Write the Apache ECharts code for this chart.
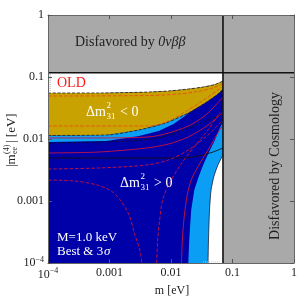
<!DOCTYPE html>
<html><head><meta charset="utf-8">
<script src="https://cdn.jsdelivr.net/npm/echarts@6/dist/echarts.min.js"></script>
<style>html,body{margin:0;padding:0;background:#fff}#c{width:300px;height:298px}</style>
</head><body><div id="c"></div>
<script>
// ---- tick labels ----
const xTicks = [1e-4, 1e-3, 1e-2, 1e-1, 1];
const yTicks = [1e-4, 1e-3, 1e-2, 1e-1, 1];
const xTickLabels = ['10{s|−4}', '0.001', '0.01', '0.1', '1'];
const yTickLabels = ['10{s|−4}', '0.001', '0.01', '0.1', '1'];

// ---- limits ----
const cosmoLimit = 0.07;     // m [eV]
const bbLimit = 0.117;       // |m_ee| [eV]

// ---- region boundaries [m, |m_ee|] ----
const goldTop = [[1e-4,0.0552],[6.84e-4,0.0552],[2.08e-3,0.0562],[4.35e-3,0.0573],[9.12e-3,0.0595],[0.0191,0.064],[0.0333,0.069],[0.0519,0.0757],[0.07,0.0862]];
const goldBottom = [[1e-4,0.0114],[8.87e-4,0.0116],[3.01e-3,0.014],[8.16e-3,0.0181],[0.0191,0.0263],[0.0358,0.0381],[0.0579,0.0532],[0.07,0.064]];
const lbBottom = [[1e-4,0.00895],[8.87e-4,0.00929],[3.01e-3,0.0112],[6.3e-3,0.0135],[0.011,0.0175],[0.0177,0.0244]];
const rbLeft = [[0.0191,1e-4],[0.0198,2.35e-4],[0.0213,7.16e-4],[0.0239,1.5e-3],[0.0277,2.35e-3],[0.0333,3.81e-3],[0.0415,6.17e-3],[0.0519,9.64e-3],[0.0601,0.014],[0.07,0.0188]];
const whiteLeft = [[0.04,1e-4],[0.0407,2.35e-4],[0.0423,7.16e-4],[0.0448,1.5e-3],[0.05,2.53e-3],[0.0579,3.81e-3],[0.0647,4.76e-3],[0.07,5.52e-3]];

// ---- contour lines ----
const lineA = [[1e-4,0.0104],[6.84e-4,0.0104],[4.35e-3,0.0108],[9.12e-3,0.0125],[0.0191,0.0162],[0.0333,0.0226],[0.0482,0.0316],[0.07,0.0476]];
const lineB = [[1e-4,0.00595],[6.84e-4,0.00617],[4.04e-3,0.00716],[9.12e-3,0.0083],[0.0191,0.0108],[0.04,0.0168],[0.07,0.0272]];
const lineC = [[1e-4,0.00494],[0.0148,0.00494],[0.0277,0.00532],[0.0482,0.00617],[0.07,0.00716]];
const lineD = [[1e-4,0.00328],[6.84e-4,0.00341],[4.04e-3,0.00381],[9.12e-3,0.00459],[0.0191,0.00665],[0.04,0.0116],[0.07,0.0203]];
const lineE = [[1e-4,2.18e-3],[2.72e-4,2.10e-3],[6.35e-4,1.81e-3],[1.07e-3,1.45e-3],[1.49e-3,1.04e-3],[2.08e-3,5.95e-4],[2.59e-3,2.83e-4],[3.12e-3,1.62e-4],[3.36e-3,1e-4]];
const lineF = [[5.85e-3,1e-4],[6.07e-3,2.35e-4],[6.54e-3,4.94e-4],[7.30e-3,1.04e-3],[9.12e-3,1.81e-3],[0.0142,3.81e-3],[0.023,7.16e-3],[0.04,0.014],[0.0624,0.0272]];
const lineG = [[0.0148,1e-4],[0.0153,2.35e-4],[0.0165,5.95e-4],[0.0184,1.25e-3],[0.0213,2.18e-3],[0.0267,3.41e-3],[0.0333,4.94e-3],[0.0448,8.0e-3],[0.0579,0.0125],[0.07,0.0168]];
const lineH = [[1e-4,0.0494],[4.35e-3,0.0503],[0.0132,0.0532],[0.0277,0.0584],[0.0482,0.0665],[0.07,0.0785]];
const lineJ = [[1e-4,0.0162],[4.35e-3,0.0162],[9.12e-3,0.0195],[0.0191,0.0294],[0.0358,0.0442],[0.0579,0.0617],[0.07,0.0716]];
const lineK = [[1e-4,0.00862],[2.08e-3,0.00929],[6.3e-3,0.0104],[0.0148,0.0135],[0.0333,0.0188],[0.07,0.0253]];
const oldLeft = [[1.08e-4,0.112],[1.08e-4,0.0573]];
const oldBottom = [[0.0333,1.04e-4],[0.0624,1.04e-4]];

const X0 = xTicks[0], X1 = xTicks[xTicks.length-1];
const Y0 = yTicks[0], Y1 = yTicks[yTicks.length-1];

const GRAY='#a9a9a9', DARK='#0000a8', LIGHT='#0a9ef5', GOLD='#c8a200', RED='#c8143c', ORANGE='#e8501a';
const SERIF='Liberation Serif';

function poly(pts, color, z){
  return {type:'custom', coordinateSystem:'cartesian2d', z:z, silent:true, data:[pts[0]],
    renderItem:function(params, api){
      return {type:'polygon', shape:{points: pts.map(p=>api.coord(p))}, style:{fill:color}};
    }};
}
function line(pts, color, type, width, z){
  return {type:'line', data:pts, showSymbol:false, smooth:0.3, z:z||3, silent:true,
    lineStyle:{color:color, type:type, width:width||1}};
}

const grayTop = [[X0,bbLimit],[X1,bbLimit],[X1,Y1],[X0,Y1]];
const grayRight = [[cosmoLimit,Y0],[X1,Y0],[X1,bbLimit],[cosmoLimit,bbLimit]];
const darkPoly = [[X0,Y0],[cosmoLimit,Y0]].concat(goldTop.slice().reverse());
const goldPoly = goldTop.concat(goldBottom.slice().reverse());
const lbPoly = goldBottom.slice(0,5).concat(lbBottom.slice().reverse());
const rbPoly = rbLeft.concat([[cosmoLimit,Y0]]);
const whitePoly = whiteLeft.concat([[cosmoLimit,Y0]]);

function labelFor(ticks, labels){
  return function(v){
    for (let i=0;i<ticks.length;i++) if (Math.abs(Math.log10(v)-Math.log10(ticks[i]))<1e-6) return labels[i];
    return '';
  };
}
const labRich = {s:{fontSize:8, fontFamily:SERIF, color:'#222', padding:[0,0,7,0]}};

function txt(x, y, text, size, color, align, extra){
  const st = {text:text, fill:color, fontFamily:SERIF, fontSize:size, align:align||'left', verticalAlign:'middle', textAlign:align||'left', textVerticalAlign:'middle'};
  if (extra) Object.assign(st, extra);
  return {type:'text', x:x, y:y, z:20, style:st};
}

const chart = echarts.init(document.getElementById('c'), null, {renderer:'canvas'});
chart.setOption({
  animation:false,
  grid:{left:48, right:3, top:15, bottom:35},
  xAxis:[{type:'log', logBase:10, min:X0, max:X1, z:10,
    axisLine:{show:true, lineStyle:{color:'#666', width:1}},
    axisTick:{show:true, inside:true, length:4, lineStyle:{color:'#555'}},
    splitLine:{show:false},
    axisLabel:{show:true, margin:4, fontFamily:SERIF, fontSize:12, color:'#222', showMinLabel:true, showMaxLabel:true,
      formatter:labelFor(xTicks,xTickLabels), rich:labRich}},
    {type:'log', logBase:10, min:X0, max:X1, position:'top', z:10,
    axisLine:{show:true, lineStyle:{color:'#666'}}, axisTick:{show:true, inside:true, length:4, lineStyle:{color:'#555'}},
    axisLabel:{show:false}, splitLine:{show:false}}],
  yAxis:[{type:'log', logBase:10, min:Y0, max:Y1, z:10,
    axisLine:{show:true, lineStyle:{color:'#666', width:1}},
    axisTick:{show:true, inside:true, length:4, lineStyle:{color:'#555'}},
    splitLine:{show:false},
    axisLabel:{show:true, margin:4, fontFamily:SERIF, fontSize:12, color:'#222', showMinLabel:true, showMaxLabel:true,
      formatter:labelFor(yTicks,yTickLabels), rich:labRich}},
    {type:'log', logBase:10, min:Y0, max:Y1, position:'right', z:10,
    axisLine:{show:true, lineStyle:{color:'#666'}}, axisTick:{show:true, inside:true, length:4, lineStyle:{color:'#555'}},
    axisLabel:{show:false}, splitLine:{show:false}}],
  series:[
    poly(grayTop, GRAY, 1),
    poly(grayRight, GRAY, 1),
    poly(darkPoly, DARK, 1),
    poly(lbPoly, LIGHT, 1),
    poly(goldPoly, GOLD, 1),
    poly(rbPoly, LIGHT, 1),
    poly(whitePoly, '#ffffff', 1),
    line(whiteLeft, '#223', 'solid', 0.8),
    line(goldTop, '#222', 'dashed', 0.8),
    line(goldBottom, '#222', 'dashed', 0.8),
    line(lineK, '#111', 'dashed', 0.8),
    line(lineH, ORANGE, 'dashed', 0.9),
    line(lineJ, ORANGE, 'dashed', 0.9),
    line(lineA, RED, 'solid', 0.9),
    line(lineB, RED, 'solid', 0.9),
    line(lineC, '#111', 'solid', 0.9),
    line(lineD, RED, 'dashed', 0.9),
    line(lineE, RED, 'dashed', 0.9),
    line(lineF, RED, 'dashed', 0.9),
    line(lineG, RED, 'solid', 0.9),
    line(oldLeft, '#999', 'dotted', 1),
    line(oldBottom, '#ccc', 'dotted', 1),
    line([[X0,bbLimit],[X1,bbLimit]], '#111', 'solid', 1.6, 5),
    line([[cosmoLimit,Y0],[cosmoLimit,Y1]], '#111', 'solid', 1.6, 5)
  ],
  graphic:[
    txt(75, 42, 'Disfavored by {i|0νββ}', 14, '#222', 'left', {rich:{i:{fontStyle:'italic', fontFamily:SERIF, fontSize:14, fill:'#222', color:'#222'}}}),
    {type:'text', x:275, y:166, z:20, rotation:Math.PI/2, style:{text:'Disfavored by Cosmology', fill:'#222', fontFamily:SERIF, fontSize:14, align:'center', verticalAlign:'middle', textAlign:'center', textVerticalAlign:'middle'}},
    txt(57, 83, 'OLD', 14, '#ff1a1a'),
    // Δm²31 < 0
    txt(86, 112, 'Δm', 14, '#fff'),
    txt(106.5, 106, '2', 9, '#fff'),
    txt(106.5, 117, '31', 9, '#fff'),
    txt(120, 112, '< 0', 14, '#fff'),
    // Δm²31 > 0
    txt(120, 183, 'Δm', 14, '#fff'),
    txt(140.5, 177, '2', 9, '#fff'),
    txt(140.5, 188, '31', 9, '#fff'),
    txt(154, 183, '> 0', 14, '#fff'),
    txt(57, 238, 'M=1.0 keV', 13, '#fff'),
    txt(57, 252, 'Best & 3', 13, '#fff'),
    txt(104, 252, 'σ', 13, '#fff', 'left', {fontStyle:'italic'}),
    txt(172, 291, 'm [eV]', 12, '#222', 'center'),
    {type:'group', x:12, y:140, rotation:Math.PI/2, z:20, children:[
      {type:'text', x:-27, y:0, style:{text:'|m', fill:'#222', fontFamily:SERIF, fontSize:13, align:'left', verticalAlign:'middle', textAlign:'left', textVerticalAlign:'middle'}},
      {type:'text', x:-14, y:3, style:{text:'ee', fill:'#222', fontFamily:SERIF, fontSize:8, align:'left', verticalAlign:'middle', textAlign:'left', textVerticalAlign:'middle'}},
      {type:'text', x:-14, y:-5, style:{text:'(4)', fill:'#222', fontFamily:SERIF, fontSize:8, align:'left', verticalAlign:'middle', textAlign:'left', textVerticalAlign:'middle'}},
      {type:'text', x:-3, y:0, style:{text:'| [eV]', fill:'#222', fontFamily:SERIF, fontSize:13, align:'left', verticalAlign:'middle', textAlign:'left', textVerticalAlign:'middle'}}
    ]}
  ]
});
</script></body></html>
